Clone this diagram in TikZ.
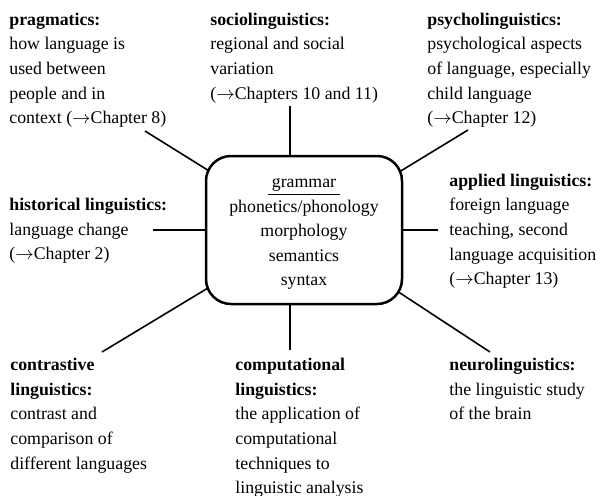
\documentclass[tikz,border=0pt]{standalone}
\usepackage{fontspec}
\setmainfont{Liberation Serif}
\usetikzlibrary{backgrounds}
\newcommand{\chref}{(\ensuremath{\rightarrow}}

\begin{document}
\begin{tikzpicture}[x=0.5pt, y=-0.5pt,
    field/.style={anchor=north west, align=left, inner sep=0pt,
        font=\fontsize{8.9}{12.3}\selectfont},
    core/.style={draw, line width=1.25pt, rounded corners=12.5pt, fill=white,
        minimum width=98pt, minimum height=74pt, align=center, inner sep=0pt,
        font=\fontsize{8.9}{12.3}\selectfont},
    link/.style={draw, line width=0.8pt}]
  \useasboundingbox (0,0) rectangle (600,495);
  \node[core] (gram) at (304,230)
    {\rule{0pt}{8.6pt}\underline{\kern2pt grammar\kern2pt}\\ phonetics/phonology\\ morphology\\ semantics\\ syntax};

  \node[field] (prag) at (9,12.5) {\textbf{pragmatics:}\\ how language is\\ used between\\ people and in\\ context \chref Chapter 8)};
  \node[field] (soc) at (210,12.5) {\textbf{sociolinguistics:}\\ regional and social\\ variation\\ \chref Chapters 10 and 11)};
  \node[field] (psy) at (427,12.5) {\textbf{psycholinguistics:}\\ psychological aspects\\ of language, especially\\ child language\\ \chref Chapter 12)};
  \node[field] (hist) at (9,198) {\textbf{historical linguistics:}\\ language change\\ \chref Chapter 2)};
  \node[field] (appl) at (449,173.5) {\textbf{applied linguistics:}\\ foreign language\\ teaching, second\\ language acquisition\\ \chref Chapter 13)};
  \node[field] (contr) at (10,358) {\textbf{contrastive}\\ \textbf{linguistics:}\\ contrast and\\ comparison of\\ different languages};
  \node[field] (comp) at (235,358) {\textbf{computational}\\ \textbf{linguistics:}\\ the application of\\ computational\\ techniques to\\ linguistic analysis};
  \node[field] (neuro) at (449,358) {\textbf{neurolinguistics:}\\ the linguistic study\\ of the brain};

  \coordinate (prag-end) at (145,131);
  \coordinate (soc-end) at (290,106);
  \coordinate (psy-end) at (468,130);
  \coordinate (hist-end) at (153,230);
  \coordinate (appl-end) at (438,230);
  \coordinate (contr-end) at (102,352);
  \coordinate (comp-end) at (290,350);
  \coordinate (neuro-end) at (490,352);

  \begin{scope}[on background layer]
    \draw[link] (prag-end) -- (gram.center);
    \draw[link] (psy-end) -- (gram.center);
    \draw[link] (contr-end) -- (gram.center);
    \draw[link] (neuro-end) -- (gram.center);
    \draw[link] (hist-end) -- (gram.center);
    \draw[link] (appl-end) -- (gram.center);
    \draw[link] (soc-end) -- (soc-end |- gram.center);
    \draw[link] (comp-end) -- (comp-end |- gram.center);
  \end{scope}
\end{tikzpicture}
\end{document}
